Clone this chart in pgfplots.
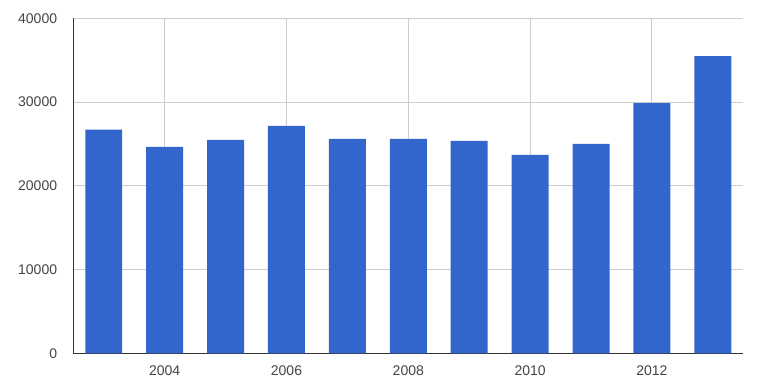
\documentclass[border=0pt]{standalone}
\usepackage{pgfplots}
\pgfplotsset{compat=1.18}
\usepackage{fontspec}
\setmainfont{Liberation Sans}
\definecolor{barblue}{HTML}{3366CC}
\definecolor{gridgray}{HTML}{CCCCCC}
\definecolor{axisdark}{HTML}{333333}
\definecolor{textgray}{HTML}{444444}
\begin{document}
\begin{tikzpicture}
\path[use as bounding box] (-73.3pt,-29.7pt) rectangle (696.7pt,353.3pt);
\begin{axis}[
  at={(0,0)}, anchor=south west,
  scale only axis,
  width=670pt, height=335pt,
  xmin=2002.5, xmax=2013.5,
  ymin=0, ymax=40000,
  ytick={0,10000,20000,30000,40000},
  xtick={2004,2006,2008,2010,2012},
  axis lines*=left,
  axis line style={axisdark, line width=1pt},
  major tick length=0pt,
  xmajorgrids, ymajorgrids,
  grid style={gridgray, line width=1pt},
  /pgf/number format/assume math mode=true,
  /pgf/number format/1000 sep={},
  scaled y ticks=false,
  tick label style={font=\fontsize{14}{16}\selectfont, text=textgray},
  yticklabel style={anchor=east, inner sep=0pt, xshift=-16pt},
  xticklabel style={anchor=base, inner sep=0pt, yshift=-22.4pt},
  ybar, bar width=0.607,
]
\addplot[fill=barblue, draw=none] coordinates {
(2003,26700) (2004,24650) (2005,25480) (2006,27150) (2007,25600)
(2008,25600) (2009,25360) (2010,23690) (2011,25000) (2012,29880) (2013,35480)
};
\end{axis}
\end{tikzpicture}
\end{document}
